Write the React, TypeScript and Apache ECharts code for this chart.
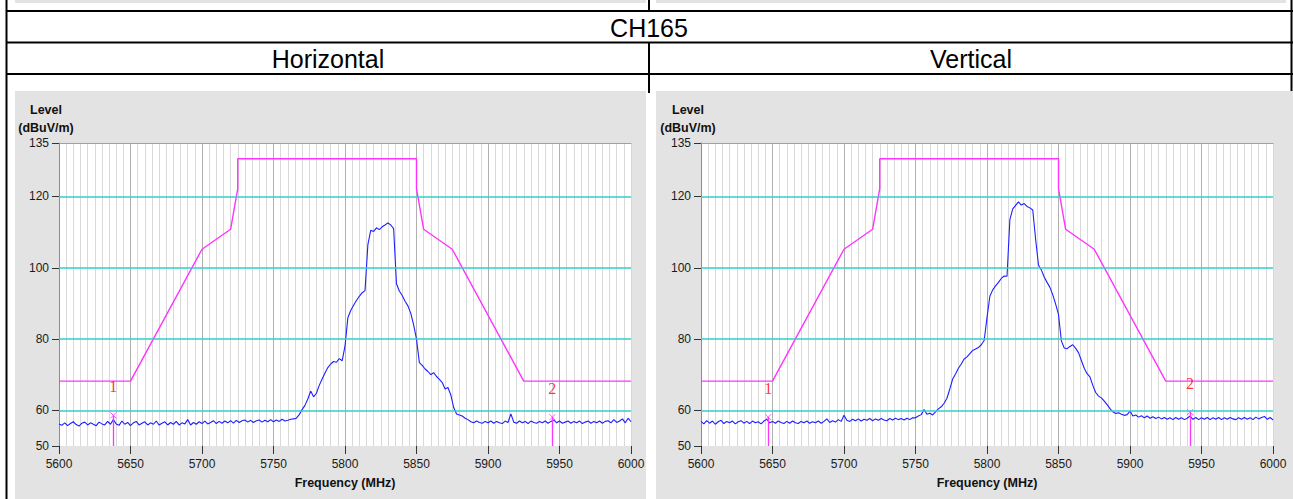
import React, { useEffect, useRef } from "react";
import * as echarts from "echarts";

// ---------- data ----------
const traceStartMHz = 5600;
const traceStepMHz = 2;

// Horizontal polarisation trace, level in dBuV/m every 2 MHz from 5600 to 6000
const horizontalLevels = [
  56.2, 55.8, 56.5, 55.7, 56.3, 56.8, 56.0, 55.6, 56.4, 56.7,
  55.9, 56.5, 56.1, 55.7, 56.7, 56.2, 55.9, 56.9, 56.1, 57.4,
  56.2, 55.8, 57.0, 56.1, 56.6, 55.7, 56.5, 56.9, 55.9, 56.4,
  56.8, 55.9, 56.5, 56.1, 57.0, 55.9, 56.4, 56.8, 55.9, 56.6,
  56.1, 56.9, 55.9, 56.5, 56.2, 57.4, 55.9, 56.6, 56.1, 56.8,
  56.3, 57.0, 56.2, 56.6, 57.1, 56.3, 56.9, 56.4, 57.0, 56.5,
  57.1, 56.4, 57.2, 56.6, 57.1, 57.3, 56.7, 57.2, 56.6, 57.1,
  57.3, 56.7, 57.2, 56.8, 57.4, 56.8, 57.3, 56.9, 57.5, 57.0,
  57.2, 57.5, 57.6,
  57.8, 58.8, 60.2, 61.4, 63.2, 65.4, 63.8, 64.8, 67.0, 68.8,
  70.5, 72.0, 73.0, 73.7, 73.5, 74.5, 73.9,
  78.0, 86.0, 88.0, 89.5, 90.8, 92.0, 93.0, 93.6, 106.5, 110.5,
  110.2, 111.2, 110.7, 111.5, 112.0, 112.6, 112.0, 111.0, 95.5, 93.5,
  92.2, 90.6, 89.3, 87.2, 84.0, 80.0, 73.4, 72.6, 71.6, 70.9,
  70.0, 70.6, 69.5, 68.7, 67.8, 66.0, 66.4, 64.3, 60.8, 59.0,
  58.7, 58.4, 57.8, 57.4, 56.8, 56.5, 57.0, 56.6, 56.4, 56.9,
  56.5, 57.0, 56.4, 56.9, 56.5, 56.3, 57.0, 56.6, 59.0, 56.7,
  56.4, 57.0, 56.5, 56.9, 56.3, 57.0, 56.6, 56.4, 56.9, 56.5,
  57.0, 56.4, 56.9, 57.3, 56.5, 57.0, 56.4, 56.7, 57.0, 56.4,
  56.9, 56.5, 57.0, 56.3, 56.7, 57.0, 56.4, 56.9, 56.5, 57.0,
  56.4, 56.9, 57.1, 56.5, 57.4, 56.6, 57.0, 57.6, 56.5, 57.8,
  56.8,
];

// Vertical polarisation trace, level in dBuV/m every 2 MHz from 5600 to 6000
const verticalLevels = [
  56.9, 56.2, 57.1, 56.4, 57.0, 56.1, 56.8, 57.2, 56.3, 56.9,
  56.5, 57.0, 56.2, 56.8, 57.1, 56.4, 56.9, 56.3, 57.0, 56.5,
  56.8, 56.2, 57.0, 57.5, 56.5, 56.9, 56.4, 57.0, 56.6, 56.3,
  56.9, 56.4, 57.0, 56.5, 56.3, 56.9, 56.5, 57.0, 56.4, 56.8,
  56.5, 57.0, 56.4, 56.9, 57.6, 56.6, 57.1, 56.7, 57.4, 56.9,
  58.6, 57.2, 56.9, 57.5, 57.1, 57.6, 57.0, 57.5, 57.2, 57.7,
  57.1, 57.6, 57.2, 57.7, 57.3, 57.1, 57.7, 57.3, 57.8, 57.4,
  57.7, 57.3, 57.8, 57.4, 57.9, 57.9, 58.4, 58.8, 60.2, 58.9,
  59.2, 58.7, 59.6,
  60.4, 61.0, 62.0, 63.4, 66.0, 68.8, 70.2, 71.8, 73.0, 74.4,
  75.0, 75.9, 76.8, 77.2, 77.6, 78.4, 79.6,
  86.0, 92.0, 93.8, 94.9, 95.9, 97.0, 97.7, 97.6, 113.5, 116.5,
  117.5, 118.5, 117.6, 118.0, 117.2, 116.8, 116.2, 108.0, 100.8, 99.4,
  97.4, 95.9, 94.5, 92.4, 89.8, 86.9, 79.5, 77.5, 77.3, 77.9,
  78.4, 77.4, 76.2, 74.0, 71.8, 70.3, 69.4, 67.0, 65.0, 64.0,
  63.5, 62.6, 61.6, 60.5, 59.6, 59.1, 59.3, 58.9, 58.6, 58.8,
  59.8, 58.4, 58.7, 58.1, 58.5, 57.9, 58.4, 57.8, 58.2, 57.7,
  58.1, 57.6, 58.0, 57.5, 57.9, 57.4, 58.0, 57.5, 57.9, 57.4,
  57.8, 58.4, 57.5, 58.0, 57.4, 57.9, 57.5, 58.0, 57.4, 57.9,
  57.5, 58.0, 57.4, 57.9, 57.5, 58.0, 57.6, 57.4, 57.9, 57.5,
  58.0, 57.5, 57.9, 57.4, 58.1, 57.6, 58.0, 58.3, 57.5, 58.0,
  57.3,
];

// Limit mask (magenta)
const limitFreq = [5600, 5650, 5700, 5720, 5725, 5725, 5850, 5850, 5855, 5875, 5925, 6000];
const limitLevel = [68.2, 68.2, 105.2, 110.8, 122.2, 130.6, 130.6, 122.2, 110.8, 105.2, 68.2, 68.2];

// Markers
const markerNames = ["1", "2"];
const markerFreqH = [5638, 5945];
const markerLevelH = [58.6, 58.1];
const markerFreqV = [5647, 5942];
const markerLevelV = [58.1, 59.5];

// Axes
const yTickLevels = [50, 60, 80, 100, 120, 135];
const cyanGridLevels = [60, 80, 100, 120];

const channelTitle = "CH165";
const panelTitles = ["Horizontal", "Vertical"];

// ---------- styles ----------
const SANS = '"Liberation Sans", Arial, sans-serif';
const SERIF = '"Liberation Serif", "Times New Roman", serif';
const MAGENTA = "#ff33ff";
const BLUE = "#1f1fff";
const CYAN = "#33cccc";
const PANEL_GREY = "#e3e3e3";

const gridsPx = [
  { left: 59, top: 143, width: 572, height: 303 },
  { left: 701, top: 143, width: 572, height: 303 },
];

function tracePairs(levels: number[]) {
  return levels.map((v, i) => [traceStartMHz + i * traceStepMHz, v]);
}

function buildOption() {
  const traces = [horizontalLevels, verticalLevels];
  const mFreq = [markerFreqH, markerFreqV];
  const mLevel = [markerLevelH, markerLevelV];

  const majorColors = ["#b0b0b0", "#b0b0b0", "#b0b0b0", "#b0b0b0", "#b0b0b0", "#b0b0b0", "#b0b0b0", "#b0b0b0", "#d6d6d6"];

  const xAxis: any[] = [];
  const yAxis: any[] = [];
  const series: any[] = [];

  [0, 1].forEach((g) => {
    xAxis.push({
      type: "value",
      gridIndex: g,
      min: 5600,
      max: 6000,
      interval: 50,
      axisLine: { show: false },
      axisTick: { show: true, length: 8, lineStyle: { color: "#333" } },
      axisLabel: {
        color: "#1a1a1a",
        fontSize: 12,
        fontFamily: SANS,
        margin: 12,
        formatter: (v: number) => String(v),
      },
      splitLine: { show: true, lineStyle: { color: majorColors, width: 1 } },
      minorTick: { show: false, splitNumber: 10 },
      minorSplitLine: { show: true, lineStyle: { color: "#d9d9d9", width: 1 } },
      name: "Frequency (MHz)",
      nameLocation: "middle",
      nameGap: 30,
      nameTextStyle: { fontFamily: SANS, fontWeight: "bold", fontSize: 12.5, color: "#111" },
    });
  });
  [0, 1].forEach((g) => {
    xAxis.push({
      type: "value",
      gridIndex: g,
      position: "top",
      min: 5600,
      max: 6000,
      axisLine: { show: true, lineStyle: { color: "#a0a0a0", width: 1 } },
      axisTick: { show: false },
      axisLabel: { show: false },
      splitLine: { show: false },
    });
    yAxis.push({
      type: "value",
      gridIndex: g,
      min: 50,
      max: 135,
      interval: 5,
      axisLine: { show: true, lineStyle: { color: "#8c8c8c", width: 1 } },
      axisTick: { show: true, length: 7, customValues: yTickLevels, lineStyle: { color: "#333" } },
      axisLabel: {
        customValues: yTickLevels,
        color: "#1a1a1a",
        fontSize: 12,
        fontFamily: SANS,
        margin: 10,
        formatter: (v: number) => (yTickLevels.includes(v) ? String(v) : ""),
      },
      splitLine: { show: false },
      name: "Level\n(dBuV/m)",
      nameLocation: "end",
      nameGap: 6,
      nameTextStyle: {
        fontFamily: SANS,
        fontWeight: "bold",
        fontSize: 12.5,
        color: "#111",
        align: "center",
        verticalAlign: "bottom",
        lineHeight: 18,
        padding: [0, 26, 0, 0],
      },
    });
  });

  [0, 1].forEach((g) => {
    // cyan reference lines
    series.push({
      type: "line",
      xAxisIndex: g,
      yAxisIndex: g,
      data: [],
      z: 1,
      silent: true,
      markLine: {
        silent: true,
        symbol: ["none", "none"],
        label: { show: false },
        lineStyle: { color: CYAN, width: 1.6, type: "solid" },
        data: cyanGridLevels.map((v) => ({ yAxis: v })),
      },
    });
    // limit mask
    series.push({
      type: "line",
      name: "Limit",
      xAxisIndex: g,
      yAxisIndex: g,
      data: limitFreq.map((f, i) => [f, limitLevel[i]]),
      showSymbol: false,
      lineStyle: { color: MAGENTA, width: 1.4 },
      z: 2,
      silent: true,
    });
    // measured trace
    series.push({
      type: "line",
      name: panelTitles[g],
      xAxisIndex: g,
      yAxisIndex: g,
      data: tracePairs(traces[g]),
      showSymbol: false,
      lineStyle: { color: BLUE, width: 1.1 },
      z: 3,
      silent: true,
    });
    // markers
    series.push({
      type: "scatter",
      xAxisIndex: g,
      yAxisIndex: g,
      z: 4,
      silent: true,
      symbol: "path://M0,0L10,10M10,0L0,10",
      symbolSize: 6,
      itemStyle: { color: "none", borderColor: MAGENTA, borderWidth: 1 },
      label: {
        show: true,
        position: "top",
        distance: 15,
        formatter: "{b}",
        color: "#ff0000",
        fontFamily: SERIF,
        fontSize: 16,
      },
      data: mFreq[g].map((f, i) => ({ name: markerNames[i], value: [f, mLevel[g][i]] })),
      markLine: {
        silent: true,
        symbol: ["none", "none"],
        label: { show: false },
        lineStyle: { color: MAGENTA, width: 1.3, type: "solid" },
        data: mFreq[g].map((f, i) => [{ coord: [f, 50] }, { coord: [f, mLevel[g][i]] }]),
      },
    });
  });

  const black = "#000";
  const line = (x1: number, y1: number, x2: number, y2: number) => ({
    type: "line",
    z: 20,
    silent: true,
    shape: { x1, y1, x2, y2 },
    style: { stroke: black, lineWidth: 2 },
  });
  const text = (t: string, x: number, y: number, size: number) => ({
    type: "text",
    z: 20,
    silent: true,
    x,
    y,
    style: { text: t, fill: "#000", font: `${size}px ${SANS}`, align: "center", verticalAlign: "middle" },
  });

  const graphic = [
    { type: "rect", z: -10, silent: true, shape: { x: 15, y: 0, width: 631, height: 3 }, style: { fill: PANEL_GREY } },
    { type: "rect", z: -10, silent: true, shape: { x: 656, y: 0, width: 630, height: 3 }, style: { fill: PANEL_GREY } },
    { type: "rect", z: -10, silent: true, shape: { x: 15, y: 91, width: 631, height: 408 }, style: { fill: PANEL_GREY } },
    { type: "rect", z: -10, silent: true, shape: { x: 656, y: 91, width: 637, height: 408 }, style: { fill: PANEL_GREY } },
    line(6, 11, 1293, 11),
    line(6, 42.5, 1293, 42.5),
    line(6, 74, 1293, 74),
    line(6.5, 0, 6.5, 499),
    line(649, 0, 649, 11),
    line(649, 42.5, 649, 93),
    line(1291.5, 0, 1291.5, 91),
    text(channelTitle, 649, 27.5, 25),
    text(panelTitles[0], 328, 58.5, 25),
    text(panelTitles[1], 971, 58.5, 25),
  ];

  return {
    animation: false,
    backgroundColor: "#fff",
    grid: gridsPx.map((p) => ({
      ...p,
      show: true,
      backgroundColor: "#fff",
      borderWidth: 0,
      containLabel: false,
    })),
    xAxis,
    yAxis,
    series,
    graphic,
  };
}

export default function App() {
  const ref = useRef<HTMLDivElement>(null);
  useEffect(() => {
    if (!ref.current) return;
    const chart = echarts.init(ref.current, undefined, { renderer: "svg" });
    chart.setOption(buildOption() as any);
    return () => chart.dispose();
  }, []);
  return (
    <div
      ref={ref}
      style={{ position: "fixed", left: 0, top: 0, width: 1293, height: 499, background: "#fff" }}
    />
  );
}
